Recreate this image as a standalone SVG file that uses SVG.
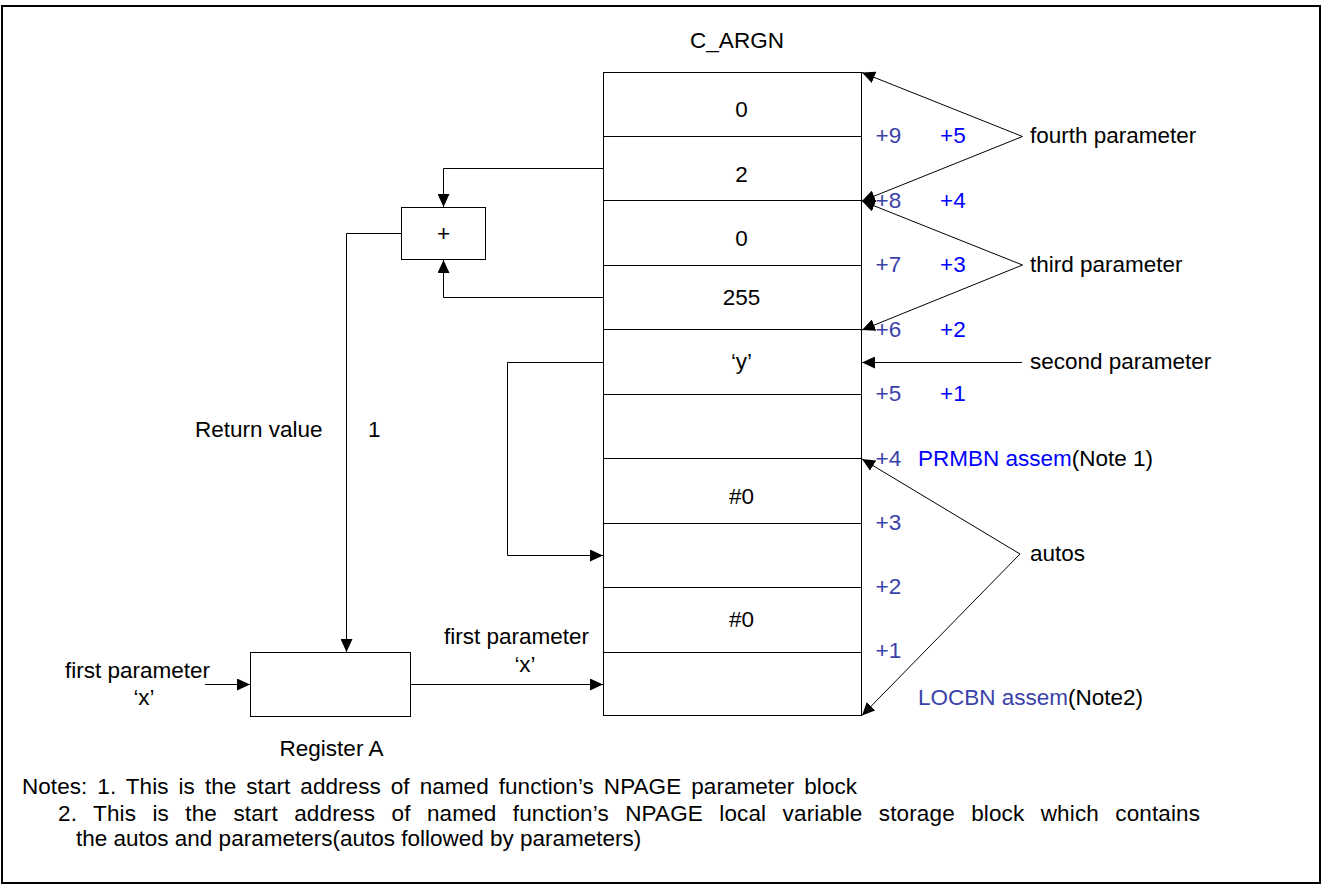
<svg xmlns="http://www.w3.org/2000/svg" width="1323" height="885" viewBox="0 0 1323 885">
<style>
text{font-family:"Liberation Sans",Arial,sans-serif;font-size:22.5px;fill:#000}
.dk{fill:#3a42aa}
.bl{fill:#0000ff}
.ln{fill:none;stroke:#000;stroke-width:1}
.box{fill:#fff;stroke:#000;stroke-width:1}
</style>
<defs>
<marker id="ah" markerUnits="userSpaceOnUse" markerWidth="14" markerHeight="12" refX="13" refY="6" orient="auto">
<path d="M0,0 L13,6 L0,12 z" fill="#000"/>
</marker>
</defs>
<rect x="2" y="6" width="1318" height="877" fill="#fff" stroke="#000" stroke-width="2"/>

<g id="stack">
<rect class="box" x="603.5" y="72.5" width="258" height="643"/>
<path class="ln" d="M603.5,136.5H861.5M603.5,200.5H861.5M603.5,265.5H861.5M603.5,329.5H861.5M603.5,394.5H861.5M603.5,458.5H861.5M603.5,523.5H861.5M603.5,587.5H861.5M603.5,652.5H861.5"/>
<text x="737" y="48" text-anchor="middle">C_ARGN</text>
<text x="741.5" y="117" text-anchor="middle">0</text>
<text x="741.5" y="181.5" text-anchor="middle">2</text>
<text x="741.5" y="245.5" text-anchor="middle">0</text>
<text x="741.5" y="305" text-anchor="middle">255</text>
<text x="741.5" y="369" text-anchor="middle">‘y’</text>
<text x="741.5" y="504" text-anchor="middle">#0</text>
<text x="741.5" y="627" text-anchor="middle">#0</text>
</g>

<g id="offsets">
<text class="dk" x="875.5" y="143">+9</text><text class="bl" x="940" y="143">+5</text>
<text class="dk" x="875.5" y="207.5">+8</text><text class="bl" x="940" y="207.5">+4</text>
<text class="dk" x="875.5" y="272">+7</text><text class="bl" x="940" y="272">+3</text>
<text class="dk" x="875.5" y="336.5">+6</text><text class="bl" x="940" y="336.5">+2</text>
<text class="dk" x="875.5" y="401">+5</text><text class="bl" x="940" y="401">+1</text>
<text class="dk" x="875.5" y="465.5">+4</text>
<text x="918" y="465.5"><tspan class="bl">PRMBN assem</tspan>(Note 1)</text>
<text class="dk" x="875.5" y="530">+3</text>
<text class="dk" x="875.5" y="594">+2</text>
<text class="dk" x="875.5" y="658">+1</text>
<text x="918" y="705"><tspan class="dk">LOCBN assem</tspan>(Note2)</text>
</g>

<g id="param-labels">
<text x="1030" y="143">fourth parameter</text>
<text x="1030" y="272">third parameter</text>
<text x="1030" y="369">second parameter</text>
<text x="1030" y="561">autos</text>
</g>

<g id="adder">
<rect class="box" x="401.5" y="207.5" width="84" height="52"/>
<text x="443.5" y="241" text-anchor="middle">+</text>
</g>

<g id="register-a">
<rect class="box" x="250.5" y="652.5" width="160" height="64"/>
<text x="331.5" y="756" text-anchor="middle">Register A</text>
</g>

<g id="connectors">
<path class="ln" d="M1022.5,136.5L862,72.5" marker-end="url(#ah)"/>
<path class="ln" d="M1022.5,136.5L862,201" marker-end="url(#ah)"/>
<path class="ln" d="M1022.5,265L862,201" marker-end="url(#ah)"/>
<path class="ln" d="M1022.5,265L862,330" marker-end="url(#ah)"/>
<path class="ln" d="M1022,362.5L862,362.5" marker-end="url(#ah)"/>
<path class="ln" d="M1020,554L862,459" marker-end="url(#ah)"/>
<path class="ln" d="M1020,554L862,715.5" marker-end="url(#ah)"/>
<path class="ln" d="M603.5,168.5H443.5V207" marker-end="url(#ah)"/>
<path class="ln" d="M603.5,297.5H443.5V260" marker-end="url(#ah)"/>
<path class="ln" d="M401.5,233.5H346.5V652" marker-end="url(#ah)"/>
<path class="ln" d="M205,684.5H250" marker-end="url(#ah)"/>
<path class="ln" d="M410.5,684.5H603" marker-end="url(#ah)"/>
<path class="ln" d="M603.5,362.5H507.5V555.5H603" marker-end="url(#ah)"/>
</g>

<g id="labels">
<text x="195" y="437">Return value</text>
<text x="368" y="437">1</text>
<text x="65" y="678">first parameter</text>
<text x="144" y="705" text-anchor="middle">‘x’</text>
<text x="444" y="644">first parameter</text>
<text x="525" y="672" text-anchor="middle">‘x’</text>
</g>

<g id="notes">
<text x="22" y="794" word-spacing="3.7" textLength="835" lengthAdjust="spacing">Notes: 1. This is the start address of named function’s NPAGE parameter block</text>
<text x="58" y="821" word-spacing="10" textLength="1142" lengthAdjust="spacing">2. This is the start address of named function’s NPAGE local variable storage block which contains</text>
<text x="76" y="846">the autos and parameters(autos followed by parameters)</text>
</g>
</svg>
